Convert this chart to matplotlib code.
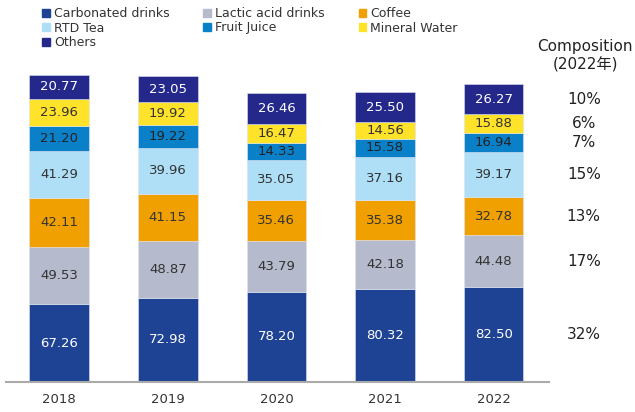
import numpy as np
import matplotlib.pyplot as plt

# =========================
# DATA
# =========================

years = ["2018", "2019", "2020", "2021", "2022"]

categories = [
    "Carbonated drinks",
    "Lactic acid drinks",
    "Coffee",
    "RTD Tea",
    "Fruit Juice",
    "Mineral Water",
    "Others",
]

carbonated = [67.26, 72.98, 78.20, 80.32, 82.50]
lactic = [49.53, 48.87, 43.79, 42.18, 44.48]
coffee = [42.11, 41.15, 35.46, 35.38, 32.78]
rtd_tea = [41.29, 39.96, 35.05, 37.16, 39.17]
fruit_juice = [21.20, 19.22, 14.33, 15.58, 16.94]
mineral_water = [23.96, 19.92, 16.47, 14.56, 15.88]
others = [20.77, 23.05, 26.46, 25.50, 26.27]

composition_2022 = ["32%", "17%", "13%", "15%", "7%", "6%", "10%"]

series = [carbonated, lactic, coffee, rtd_tea, fruit_juice, mineral_water, others]

colors = ["#1E4394", "#B5BACC", "#F0A000", "#AEDFF7", "#0A80C9", "#FFE22A", "#23288A"]
text_colors = ["white", "#333333", "#333333", "#333333", "#222222", "#333333", "white"]

# =========================
# PLOT
# =========================

fig = plt.figure(figsize=(6.35, 4.12), dpi=100)
ax = fig.add_axes([6 / 635, 30 / 412, 543 / 635, 1 - 30 / 412 - 47 / 412])

x = np.arange(len(years))
bottom = np.zeros(len(years))
handles = []

for vals, col, tcol, name in zip(series, colors, text_colors, categories):
    vals = np.array(vals)
    bars = ax.bar(x, vals, width=0.55, bottom=bottom, color=col, label=name,
                  edgecolor="#DDE3F0", linewidth=0.4)
    handles.append(bars)
    for xi, b, v in zip(x, bottom, vals):
        ax.text(xi, b + v / 2, f"{v:.2f}", ha="center", va="center",
                fontsize=9.5, color=tcol)
    bottom = bottom + vals

# composition column (2022)
bottom22 = 0
for vals, pct in zip(series, composition_2022):
    ax.text(4.83, bottom22 + vals[-1] / 2, pct, ha="center", va="center",
            fontsize=11, color="#222222", clip_on=False)
    bottom22 += vals[-1]

fig.text(585 / 635, 1 - 46 / 412, "Composition", ha="center", va="center",
         fontsize=11, color="#222222")
fig.text(585 / 635, 1 - 65 / 412, "(2022年)", ha="center", va="center",
         fontsize=11, color="#222222", family=["DejaVu Sans", "Noto Sans CJK JP"])

ax.set_xlim(-0.49, 4.51)
ax.set_ylim(0, 290)
ax.set_xticks(x)
ax.set_xticklabels(years, fontsize=9.5, color="#333333")
ax.tick_params(axis="x", length=0, pad=8)
ax.set_yticks([])

for side in ["top", "right", "left"]:
    ax.spines[side].set_visible(False)
ax.spines["bottom"].set_color("#AAAAAA")
ax.spines["bottom"].set_linewidth(1.5)

# legend filled row by row
order = [0, 3, 6, 1, 4, 2, 5]
legend_handles = [plt.Rectangle((0, 0), 1, 1, color=colors[i]) for i in order]
leg = fig.legend(
    legend_handles,
    [categories[i] for i in order],
    ncol=3,
    loc="upper left",
    bbox_to_anchor=(37 / 635, 1 - 2 / 412),
    frameon=False,
    fontsize=9,
    handlelength=0.6,
    handleheight=0.6,
    handletextpad=0.35,
    columnspacing=2.7,
    labelspacing=0.12,
    borderaxespad=0,
)
for t in leg.get_texts():
    t.set_color("#333333")

plt.savefig("out.png", dpi=100)
